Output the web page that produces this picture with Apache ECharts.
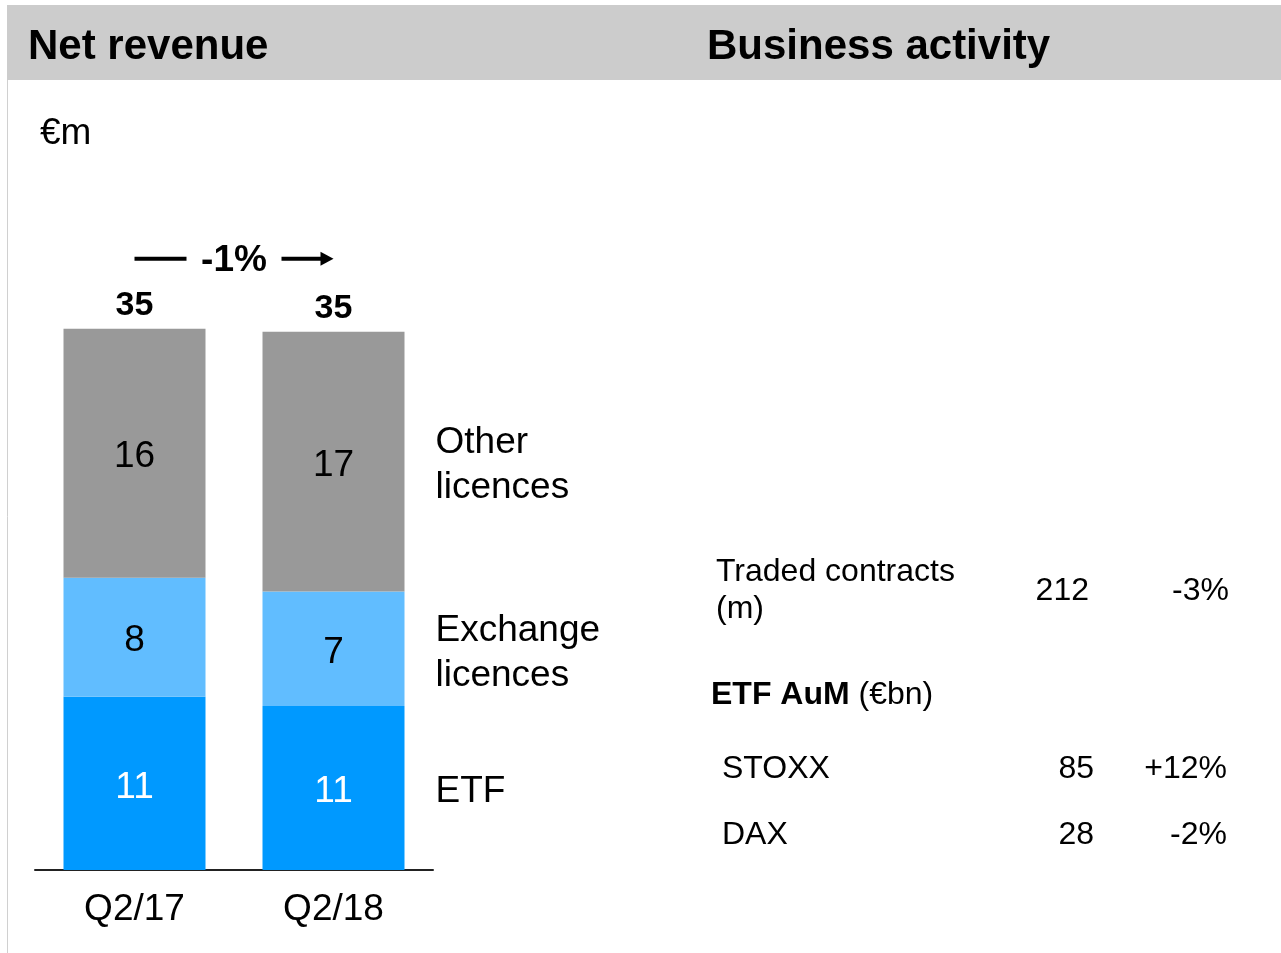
<!DOCTYPE html>
<html>
<head>
<meta charset="utf-8">
<script src="https://cdn.jsdelivr.net/npm/echarts@6/dist/echarts.min.js"></script>
<style>
  html, body { margin: 0; padding: 0; background: #fff; }
  #main { width: 1281px; height: 953px; }
</style>
</head>
<body>
<div id="main"></div>
<script>
var FONT = '"Liberation Sans", Arial, sans-serif';

// net revenue, €m
var categories = ['Q2/17', 'Q2/18'];
var etf = [11.2, 10.6];
var exchange = [7.7, 7.4];
var other = [16.1, 16.8];
var segmentNames = ['ETF', 'Exchange\nlicences', 'Other\nlicences'];

// business activity table
var activityLabels = ['Traded contracts\n(m)', 'STOXX', 'DAX'];
var activityValues = ['212', '85', '28'];
var activityChanges = ['-3%', '+12%', '-2%'];

var totals = categories.map(function (c, i) {
  return +(etf[i] + exchange[i] + other[i]).toFixed(1);
});
var growth = Math.round((totals[1] / totals[0] - 1) * 100);

var chart = echarts.init(document.getElementById('main'));

function segLabel(color) {
  return {
    show: true,
    position: 'inside',
    offset: [0, 4],
    color: color,
    fontSize: 37,
    fontFamily: FONT,
    formatter: function (p) { return Math.round(p.value); }
  };
}

var option = {
  animation: false,
  backgroundColor: '#fff',
  grid: { left: 35, right: 848, top: 174, bottom: 83 },
  xAxis: {
    type: 'category',
    data: categories,
    axisLine: { lineStyle: { color: '#222', width: 2 } },
    axisTick: { show: false },
    axisLabel: { color: '#000', fontSize: 37, fontFamily: FONT, margin: 21 }
  },
  yAxis: {
    type: 'value',
    min: 0,
    max: 45,
    show: false,
    splitLine: { show: false }
  },
  series: [
    {
      name: 'ETF', type: 'bar', stack: 'rev', data: etf, barWidth: 142,
      itemStyle: { color: '#0099ff' }, label: segLabel('#fff')
    },
    {
      name: 'Exchange licences', type: 'bar', stack: 'rev', data: exchange, barWidth: 142,
      itemStyle: { color: '#61bdff' }, label: segLabel('#000')
    },
    {
      name: 'Other licences', type: 'bar', stack: 'rev', data: other, barWidth: 142,
      itemStyle: { color: '#999999' }, label: segLabel('#000')
    },
    {
      name: 'Total', type: 'bar', data: totals, barWidth: 142, barGap: '-100%',
      silent: true, z: -1,
      itemStyle: { color: 'rgba(0,0,0,0)' },
      label: {
        show: true, position: 'top', distance: 6,
        color: '#000', fontSize: 34, fontWeight: 'bold', fontFamily: FONT,
        formatter: function (p) { return Math.round(p.value); }
      }
    }
  ],
  graphic: [
    { type: 'rect', shape: { x: 7, y: 5, width: 1274, height: 75 }, style: { fill: '#cccccc' } },
    { type: 'line', shape: { x1: 7.5, y1: 80, x2: 7.5, y2: 953 }, style: { stroke: '#d0d0d0', lineWidth: 1 } },
    { type: 'text', x: 28, y: 47, style: { text: 'Net revenue', font: 'bold 42px ' + FONT, fill: '#000', verticalAlign: 'middle' } },
    { type: 'text', x: 707, y: 47, style: { text: 'Business activity', font: 'bold 42px ' + FONT, fill: '#000', verticalAlign: 'middle' } },
    { type: 'text', x: 40, y: 134, style: { text: '€m', font: '37px ' + FONT, fill: '#000', verticalAlign: 'middle' } }
  ]
};
chart.setOption(option);

// labels to the right of the Q2/18 bar, growth arrow and the activity table
var extra = [];
var stacks = [etf, exchange, other];
var base = 0;
stacks.forEach(function (s, i) {
  var mid = base + s[1] / 2;
  base += s[1];
  var pt = chart.convertToPixel({ gridIndex: 0 }, [1, mid]);
  extra.push({
    type: 'text', x: pt[0] + 102, y: pt[1] + 4,
    style: {
      text: segmentNames[i], font: '37px ' + FONT, fill: '#000',
      lineHeight: 45, verticalAlign: 'middle'
    }
  });
});

var p0 = chart.convertToPixel({ gridIndex: 0 }, [0, Math.max(totals[0], totals[1])]);
var p1 = chart.convertToPixel({ gridIndex: 0 }, [1, Math.max(totals[0], totals[1])]);
var ay = p0[1] - 70;
var xm = (p0[0] + p1[0]) / 2;
extra.push(
  { type: 'line', shape: { x1: p0[0], y1: ay, x2: p0[0] + 52, y2: ay }, style: { stroke: '#000', lineWidth: 4 } },
  { type: 'text', x: xm, y: ay + 2, style: { text: growth + '%', font: 'bold 37px ' + FONT, fill: '#000', align: 'center', verticalAlign: 'middle' } },
  { type: 'line', shape: { x1: p1[0] - 52, y1: ay, x2: p1[0] - 10, y2: ay }, style: { stroke: '#000', lineWidth: 4 } },
  { type: 'polygon', shape: { points: [[p1[0] - 13, ay - 7], [p1[0], ay], [p1[0] - 13, ay + 7]] }, style: { fill: '#000' } }
);

var rowY = [591, 769, 835];
var labelX = [716, 722, 722];
var valueX = [1089, 1094, 1094];
var changeX = [1229, 1227, 1227];
activityLabels.forEach(function (lab, i) {
  extra.push(
    { type: 'text', x: labelX[i], y: rowY[i], style: { text: lab, font: '32px ' + FONT, fill: '#000', lineHeight: 37, verticalAlign: 'middle' } },
    { type: 'text', x: valueX[i], y: rowY[i], style: { text: activityValues[i], font: '32px ' + FONT, fill: '#000', align: 'right', verticalAlign: 'middle' } },
    { type: 'text', x: changeX[i], y: rowY[i], style: { text: activityChanges[i], font: '32px ' + FONT, fill: '#000', align: 'right', verticalAlign: 'middle' } }
  );
});
extra.push({
  type: 'text', x: 711, y: 695,
  style: {
    text: '{b|ETF AuM} (€bn)', font: '32px ' + FONT, fill: '#000', verticalAlign: 'middle',
    rich: { b: { fontWeight: 'bold', fontSize: 32, fontFamily: FONT } }
  }
});

chart.setOption({ graphic: option.graphic.concat(extra) });
</script>
</body>
</html>
